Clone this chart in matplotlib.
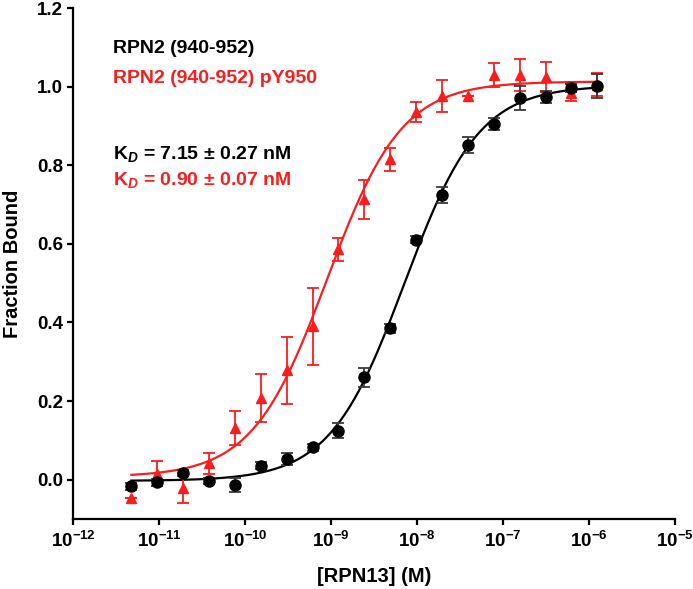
import numpy as np
import matplotlib
matplotlib.use("Agg")
import matplotlib.pyplot as plt
from matplotlib.ticker import FixedLocator, FuncFormatter, NullLocator

plt.rcParams['font.family'] = ['Liberation Sans', 'DejaVu Sans']
plt.rcParams['font.weight'] = 'bold'
plt.rcParams['mathtext.fontset'] = 'custom'
plt.rcParams['mathtext.rm'] = 'Liberation Sans:bold'
plt.rcParams['mathtext.bf'] = 'Liberation Sans:bold'
plt.rcParams['mathtext.it'] = 'Liberation Sans:bold:italic'
plt.rcParams['axes.unicode_minus'] = True

# ---- data ----
n_points = 19
top_conc = 1.25e-6  # M, 2-fold serial dilution
conc = top_conc / 2.0 ** np.arange(n_points - 1, -1, -1)

wt_mean = [-0.017, -0.007, 0.017, -0.003, -0.014, 0.036, 0.053, 0.082, 0.125,
           0.260, 0.385, 0.611, 0.724, 0.851, 0.904, 0.971, 0.974, 0.996, 1.001]
wt_err = [0.008, 0.010, 0.008, 0.008, 0.018, 0.010, 0.015, 0.010, 0.018,
          0.025, 0.012, 0.010, 0.020, 0.020, 0.015, 0.030, 0.015, 0.010, 0.030]

py_mean = [-0.047, 0.015, -0.021, 0.042, 0.132, 0.208, 0.278, 0.390, 0.586,
           0.713, 0.815, 0.935, 0.976, 0.976, 1.029, 1.029, 1.024, 0.985, 1.005]
py_err = [0.0, 0.032, 0.038, 0.027, 0.044, 0.060, 0.085, 0.097, 0.030,
          0.050, 0.030, 0.025, 0.040, 0.0, 0.030, 0.040, 0.038, 0.022, 0.030]

# fit parameters (one-site binding)
wt_kd, wt_bottom, wt_top = 7.15e-9, -0.003, 1.003
py_kd, py_bottom, py_top = 0.90e-9, 0.007, 1.013

wt_label = "RPN2 (940-952)"
py_label = "RPN2 (940-952) pY950"
wt_kd_text = r"K$_{\mathit{D}}$ = 7.15 ± 0.27 nM"
py_kd_text = r"K$_{\mathit{D}}$ = 0.90 ± 0.07 nM"

xticks = [1e-12, 1e-11, 1e-10, 1e-9, 1e-8, 1e-7, 1e-6, 1e-5]
yticks = [0.0, 0.2, 0.4, 0.6, 0.8, 1.0, 1.2]

RED = '#fb1d1d'
BLACK = '#000000'


def hill(x, kd, bottom, top):
    return bottom + (top - bottom) * x / (x + kd)


fig = plt.figure(figsize=(6.93, 5.89), dpi=100)
ax = fig.add_axes([73 / 693, 1 - 519 / 589, 602 / 693, 511 / 589])

xfit = np.logspace(np.log10(conc[0]), np.log10(conc[-1]), 400)
ax.plot(xfit, hill(xfit, py_kd, py_bottom, py_top), color=RED, lw=1.6, zorder=2)
ax.plot(xfit, hill(xfit, wt_kd, wt_bottom, wt_top), color=BLACK, lw=1.6, zorder=3)

ax.errorbar(conc, py_mean, yerr=py_err, fmt='^', color=RED, ms=7.5,
            ecolor=RED, elinewidth=1.3, capsize=4.5, capthick=1.3, zorder=4)
ax.errorbar(conc, wt_mean, yerr=wt_err, fmt='o', color=BLACK, ms=8,
            ecolor='#3a3a3a', elinewidth=1.3, capsize=4.5, capthick=1.3, zorder=5)

ax.set_xscale('log')
ax.set_xlim(1e-12, 1e-5)
ax.set_ylim(-0.1, 1.2)
ax.xaxis.set_major_locator(FixedLocator(xticks))
ax.xaxis.set_minor_locator(NullLocator())
ax.xaxis.set_major_formatter(FuncFormatter(
    lambda v, p: r"$10^{%d}$" % int(round(np.log10(v)))))
ax.yaxis.set_major_locator(FixedLocator(yticks))
ax.yaxis.set_major_formatter(FuncFormatter(lambda v, p: "%.1f" % v))

for s in ['top', 'right']:
    ax.spines[s].set_visible(False)
for s in ['left', 'bottom']:
    ax.spines[s].set_linewidth(1.6)
ax.tick_params(axis='both', which='major', direction='out', length=4.5,
               width=1.6, labelsize=13.5)
ax.tick_params(axis='y', pad=2.5)
ax.tick_params(axis='x', pad=4)
for lab in ax.get_xticklabels() + ax.get_yticklabels():
    lab.set_fontweight('bold')

ax.set_ylabel("Fraction Bound", fontsize=14.5, fontweight='bold')
ax.set_xlabel("[RPN13] (M)", fontsize=14.5, fontweight='bold')
ax.yaxis.set_label_coords(-0.084, 0.5)
ax.xaxis.set_label_coords(0.5, -0.094)

tx = 0.066
ax.text(tx, 0.92, wt_label, transform=ax.transAxes, color=BLACK,
        fontsize=14, fontweight='bold', va='center', ha='left')
ax.text(tx, 0.863, py_label, transform=ax.transAxes, color=RED,
        fontsize=14, fontweight='bold', va='center', ha='left')
ax.text(tx, 0.714, wt_kd_text, transform=ax.transAxes, color=BLACK,
        fontsize=14, fontweight='bold', va='center', ha='left')
ax.text(tx, 0.663, py_kd_text, transform=ax.transAxes, color=RED,
        fontsize=14, fontweight='bold', va='center', ha='left')

fig.savefig("out.png", dpi=100)
